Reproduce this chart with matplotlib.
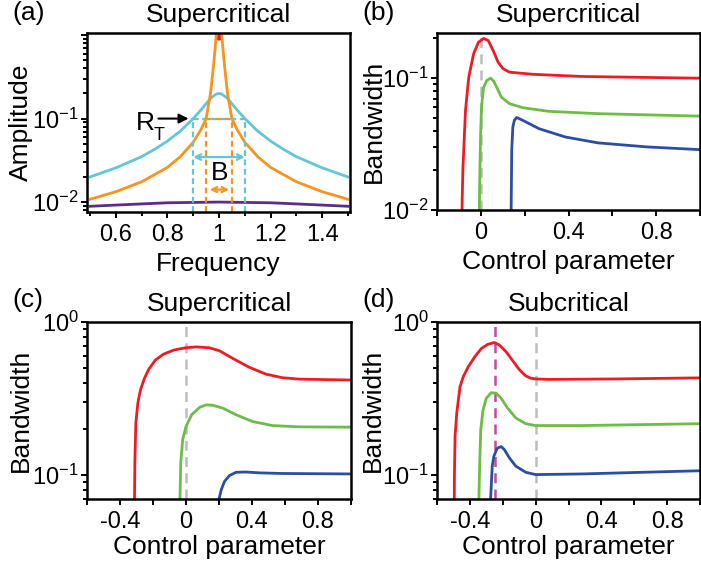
import matplotlib
matplotlib.use("Agg")
import matplotlib.pyplot as plt
from matplotlib.ticker import FixedLocator, LogLocator, NullFormatter

plt.rcParams['font.family'] = ['Liberation Sans', 'DejaVu Sans']
plt.rcParams['mathtext.fontset'] = 'custom'
plt.rcParams['mathtext.rm'] = 'Liberation Sans'
plt.rcParams['mathtext.it'] = 'Liberation Sans:italic'

RED = '#ed1c24'
GREEN = '#6cbd45'
BLUE = '#2b4ea2'
CYAN = '#62c6d8'
ORANGE = '#f7941d'
PURPLE = '#5c2d86'
GRAY = '#bdbdbd'
MAGENTA = '#c24aa1'

# ---------------- panel (a) data ----------------
freq = [0.5, 0.6, 0.7, 0.75, 0.8, 0.85, 0.9, 0.93, 0.95, 0.97, 0.99, 1.0,
        1.01, 1.03, 1.05, 1.07, 1.1, 1.15, 1.2, 1.25, 1.3, 1.4, 1.5]
amp_cyan = [0.020, 0.0257, 0.035, 0.0428, 0.0538, 0.0708, 0.100, 0.127, 0.151, 0.178, 0.197, 0.200,
            0.197, 0.178, 0.151, 0.127, 0.100, 0.0708, 0.0538, 0.0428, 0.035, 0.0257, 0.020]
freq_orange = [0.5, 0.6, 0.7, 0.8, 0.85, 0.9, 0.93, 0.95, 0.967, 0.978, 0.985, 0.99, 0.994, 1.0,
               1.006, 1.01, 1.015, 1.022, 1.033, 1.05, 1.07, 1.1, 1.15, 1.2, 1.3, 1.4, 1.5]
amp_orange = [0.0108, 0.0133, 0.0175, 0.026, 0.035, 0.052, 0.074, 0.1, 0.2, 0.41, 0.7, 1.06, 1.6, 3.0,
              1.6, 1.06, 0.7, 0.41, 0.2, 0.1, 0.074, 0.052, 0.035, 0.026, 0.0175, 0.0133, 0.0108]
freq_purple = [0.5, 0.6, 0.7, 0.8, 0.9, 1.0, 1.1, 1.2, 1.3, 1.4, 1.5]
amp_purple = [0.0089, 0.0092, 0.0095, 0.0098, 0.0099, 0.0100, 0.0099, 0.0098, 0.0095, 0.0092, 0.0089]
freq_red = [0.996, 1.0, 1.004]
amp_red = [0.9, 1.04, 0.9]
R_T = 0.1
band_cyan = (0.9, 1.1)
band_orange = (0.95, 1.05)

# ---------------- panel (b) data ----------------
b_red_x = [-0.086, -0.085, -0.082, -0.078, -0.070, -0.055, -0.033, -0.011, 0.012, 0.034, 0.056,
           0.079, 0.101, 0.131, 0.235, 0.459, 0.98, 1.0]
b_red_y = [0.009, 0.012, 0.020, 0.0284, 0.057, 0.102, 0.153, 0.187, 0.200, 0.193, 0.162,
           0.132, 0.118, 0.111, 0.107, 0.103, 0.100, 0.100]
b_green_x = [-0.007, -0.006, -0.004, -0.001, 0.003, 0.012, 0.027, 0.045, 0.06, 0.072, 0.094,
             0.131, 0.191, 0.31, 0.534, 0.98, 1.0]
b_green_y = [0.009, 0.013, 0.021, 0.038, 0.060, 0.0845, 0.096, 0.100, 0.094, 0.0855, 0.0718,
             0.064, 0.0597, 0.056, 0.0538, 0.0516, 0.0515]
b_blue_x = [0.138, 0.139, 0.141, 0.146, 0.153, 0.163, 0.168, 0.206, 0.265, 0.385, 0.534, 0.757, 0.98, 1.0]
b_blue_y = [0.009, 0.013, 0.0284, 0.0426, 0.0479, 0.0502, 0.0500, 0.0465, 0.0414, 0.0358,
            0.0323, 0.0301, 0.0288, 0.0287]

# ---------------- panel (c) data ----------------
c_red_x = [-0.313, -0.312, -0.310, -0.304, -0.292, -0.276, -0.252, -0.226, -0.186, -0.136, -0.076,
           -0.006, 0.064, 0.144, 0.204, 0.284, 0.384, 0.484, 0.584, 0.684, 1.0]
c_red_y = [0.065, 0.07, 0.12, 0.219, 0.295, 0.36, 0.429, 0.491, 0.564, 0.617, 0.655,
           0.678, 0.688, 0.678, 0.648, 0.578, 0.506, 0.457, 0.433, 0.424, 0.418]
c_green_x = [-0.037, -0.036, -0.032, -0.02, 0.0, 0.034, 0.084, 0.124, 0.164, 0.224, 0.304,
             0.404, 0.524, 0.684, 1.0]
c_green_y = [0.065, 0.075, 0.12, 0.171, 0.208, 0.248, 0.278, 0.288, 0.286, 0.274, 0.248,
             0.224, 0.211, 0.207, 0.206]
c_blue_x = [0.199, 0.2, 0.214, 0.234, 0.264, 0.304, 0.364, 0.444, 0.584, 1.0]
c_blue_y = [0.068, 0.07, 0.0807, 0.0914, 0.0996, 0.1046, 0.105, 0.1037, 0.1027, 0.102]

# ---------------- panel (d) data ----------------
d_red_x = [-0.495, -0.494, -0.49, -0.48, -0.47, -0.46, -0.44, -0.41, -0.37, -0.33, -0.29, -0.25,
           -0.22, -0.18, -0.14, -0.10, -0.06, -0.03, 0.0, 0.08, 0.48, 1.0]
d_red_y = [0.065, 0.10, 0.18, 0.254, 0.31, 0.378, 0.44, 0.51, 0.593, 0.672, 0.716, 0.735,
           0.706, 0.64, 0.56, 0.49, 0.445, 0.43, 0.425, 0.422, 0.425, 0.432]
d_green_x = [-0.345, -0.344, -0.34, -0.334, -0.32, -0.30, -0.27, -0.24, -0.21, -0.17, -0.12,
             -0.06, 0.0, 0.28, 1.0]
d_green_y = [0.065, 0.08, 0.12, 0.198, 0.267, 0.318, 0.346, 0.343, 0.318, 0.274, 0.236,
             0.217, 0.211, 0.211, 0.217]
d_blue_x = [-0.275, -0.274, -0.27, -0.264, -0.254, -0.234, -0.21, -0.19, -0.16, -0.12, -0.06,
            0.0, 0.28, 1.0]
d_blue_y = [0.065, 0.07, 0.0849, 0.1145, 0.133, 0.150, 0.154, 0.147, 0.130, 0.1145, 0.1046,
            0.101, 0.102, 0.107]
d_subcrit = -0.25

W, H = 701, 567
fig = plt.figure(figsize=(W / 100, H / 100), dpi=100)


def box(l, t, r, b):
    return [l / W, 1 - b / H, (r - l) / W, (b - t) / H]


axA = fig.add_axes(box(87, 33, 350, 212))
axB = fig.add_axes(box(437, 33, 700, 210))
axC = fig.add_axes(box(87, 322, 351, 499))
axD = fig.add_axes(box(437, 322, 700, 499))

LW = 2.0
TFS = 17
LFS = 19


def style(ax, top_px, bottom_px, left_px, ylab_x_px, xlab_base_px):
    for s in ax.spines.values():
        s.set_linewidth(1.8)
    ax.tick_params(which='both', direction='out', top=False, right=False, width=1.4,
                   labelsize=TFS)
    ax.tick_params(axis='x', which='both', pad=4)
    ax.tick_params(axis='y', which='both', pad=1.5)
    ax.tick_params(which='major', length=4.3)
    ax.tick_params(which='minor', length=2.8)
    hgt = bottom_px - top_px
    ax.yaxis.set_label_coords((ylab_x_px - left_px) / 263.0, 0.5)
    ax.yaxis.label.set_verticalalignment('center')
    ax.xaxis.set_label_coords(0.5, (bottom_px - xlab_base_px) / hgt)
    ax.xaxis.label.set_verticalalignment('baseline')


# ---- (a)
axA.set_yscale('log')
axA.plot(freq_purple, amp_purple, color=PURPLE, lw=LW)
axA.plot(freq, amp_cyan, color=CYAN, lw=LW)
axA.plot(freq_red, amp_red, color=RED, lw=LW)
axA.plot(freq_orange, amp_orange, color=ORANGE, lw=LW)
ylo = 0.0076
dash = (0, (2.6, 1.6))
for xv in band_cyan:
    axA.plot([xv, xv], [ylo, R_T], color=CYAN, lw=1.6, linestyle=dash)
axA.plot(list(band_cyan), [R_T, R_T], color=CYAN, lw=1.6, linestyle=dash)
for xv in band_orange:
    axA.plot([xv, xv], [ylo, R_T], color=ORANGE, lw=1.6, linestyle=dash)
axA.plot(list(band_orange), [R_T, R_T], color=ORANGE, lw=1.6, linestyle=dash)
axA.annotate('', xy=(0.882, R_T), xytext=(0.765, R_T),
             arrowprops=dict(arrowstyle='-|>', color='k', lw=1.5, mutation_scale=14,
                             shrinkA=0, shrinkB=0))
axA.text(0.677, 0.0725, 'R', fontsize=LFS, ha='left', va='baseline')
axA.text(0.748, 0.056, 'T', fontsize=13, ha='left', va='baseline')
axA.annotate('', xy=(band_cyan[0], 0.0346), xytext=(band_cyan[1], 0.0346),
             arrowprops=dict(arrowstyle='<->', color=CYAN, lw=1.6, mutation_scale=10,
                             shrinkA=0, shrinkB=0))
axA.annotate('', xy=(0.964, 0.0141), xytext=(1.039, 0.0141),
             arrowprops=dict(arrowstyle='<->', color=ORANGE, lw=1.6, mutation_scale=9,
                             shrinkA=0, shrinkB=0))
axA.text(1.002, 0.0182, 'B', fontsize=LFS, ha='center', va='baseline')
axA.set_xlim(0.488, 1.508)
axA.set_ylim(ylo, 1.06)
axA.xaxis.set_major_locator(FixedLocator([0.6, 0.8, 1.0, 1.2, 1.4]))
axA.set_xticklabels(['0.6', '0.8', '1', '1.2', '1.4'])
axA.xaxis.set_minor_locator(FixedLocator([0.5, 0.7, 0.9, 1.1, 1.3, 1.5]))
axA.yaxis.set_major_locator(FixedLocator([0.01, 0.1, 1.0]))
axA.set_yticklabels([r'$10^{-2}$', r'$10^{-1}$', ''])
axA.yaxis.set_minor_locator(LogLocator(base=10, subs=range(2, 10)))
axA.yaxis.set_minor_formatter(NullFormatter())
axA.set_xlabel('Frequency', fontsize=LFS)
axA.set_ylabel('Amplitude', fontsize=LFS)
axA.set_title('Supercritical', fontsize=LFS, pad=8)
style(axA, 33, 212, 87, 21, 271)

# ---- (b)
axB.set_yscale('log')
axB.axvline(0, color=GRAY, lw=1.8, linestyle=(0, (4, 2.5)))
axB.plot(b_red_x, b_red_y, color=RED, lw=LW)
axB.plot(b_green_x, b_green_y, color=GREEN, lw=LW)
axB.plot(b_blue_x, b_blue_y, color=BLUE, lw=LW)
axB.set_xlim(-0.2, 1.0)
axB.set_ylim(0.01, 0.22)
axB.xaxis.set_major_locator(FixedLocator([-0.2, 0, 0.2, 0.4, 0.6, 0.8, 1.0]))
axB.set_xticklabels(['', '0', '', '0.4', '', '0.8', ''])
axB.yaxis.set_major_locator(FixedLocator([0.01, 0.1]))
axB.set_yticklabels([r'$10^{-2}$', r'$10^{-1}$'])
axB.yaxis.set_minor_locator(LogLocator(base=10, subs=range(2, 10)))
axB.yaxis.set_minor_formatter(NullFormatter())
axB.set_xlabel('Control parameter', fontsize=LFS)
axB.set_ylabel('Bandwidth', fontsize=LFS)
axB.set_title('Supercritical', fontsize=LFS, pad=8)
style(axB, 33, 210, 437, 374, 268.5)

# ---- (c) and (d)
for ax, data, title, left, ylx in [
    (axC, [(c_red_x, c_red_y, RED), (c_green_x, c_green_y, GREEN), (c_blue_x, c_blue_y, BLUE)],
     'Supercritical', 87, 21),
    (axD, [(d_red_x, d_red_y, RED), (d_green_x, d_green_y, GREEN), (d_blue_x, d_blue_y, BLUE)],
     'Subcritical', 437, 373)]:
    ax.set_yscale('log')
    ax.axvline(0, color=GRAY, lw=1.8, linestyle=(0, (4, 2.5)))
    if ax is axD:
        ax.axvline(d_subcrit, color=MAGENTA, lw=1.8, linestyle=(0, (4, 2.5)))
    for xs, ys, c in data:
        ax.plot(xs, ys, color=c, lw=LW)
    ax.set_xlim(-0.6, 1.0)
    ax.set_ylim(0.07, 1.0)
    ax.xaxis.set_major_locator(FixedLocator([-0.6, -0.4, -0.2, 0, 0.2, 0.4, 0.6, 0.8, 1.0]))
    ax.set_xticklabels(['', '-0.4', '', '0', '', '0.4', '', '0.8', ''])
    ax.yaxis.set_major_locator(FixedLocator([0.1, 1.0]))
    ax.set_yticklabels([r'$10^{-1}$', r'$10^{0}$'])
    ax.yaxis.set_minor_locator(LogLocator(base=10, subs=range(2, 10)))
    ax.yaxis.set_minor_formatter(NullFormatter())
    ax.set_xlabel('Control parameter', fontsize=LFS)
    ax.set_ylabel('Bandwidth', fontsize=LFS)
    ax.set_title(title, fontsize=LFS, pad=8)
    style(ax, 322, 499, left, ylx, 554)

for lbl, x, y in [('(a)', 12, 20), ('(b)', 362, 20), ('(c)', 12, 307), ('(d)', 362, 307)]:
    fig.text(x / W, 1 - y / H, lbl, fontsize=LFS, ha='left', va='baseline')

fig.savefig('out.png', dpi=100)
